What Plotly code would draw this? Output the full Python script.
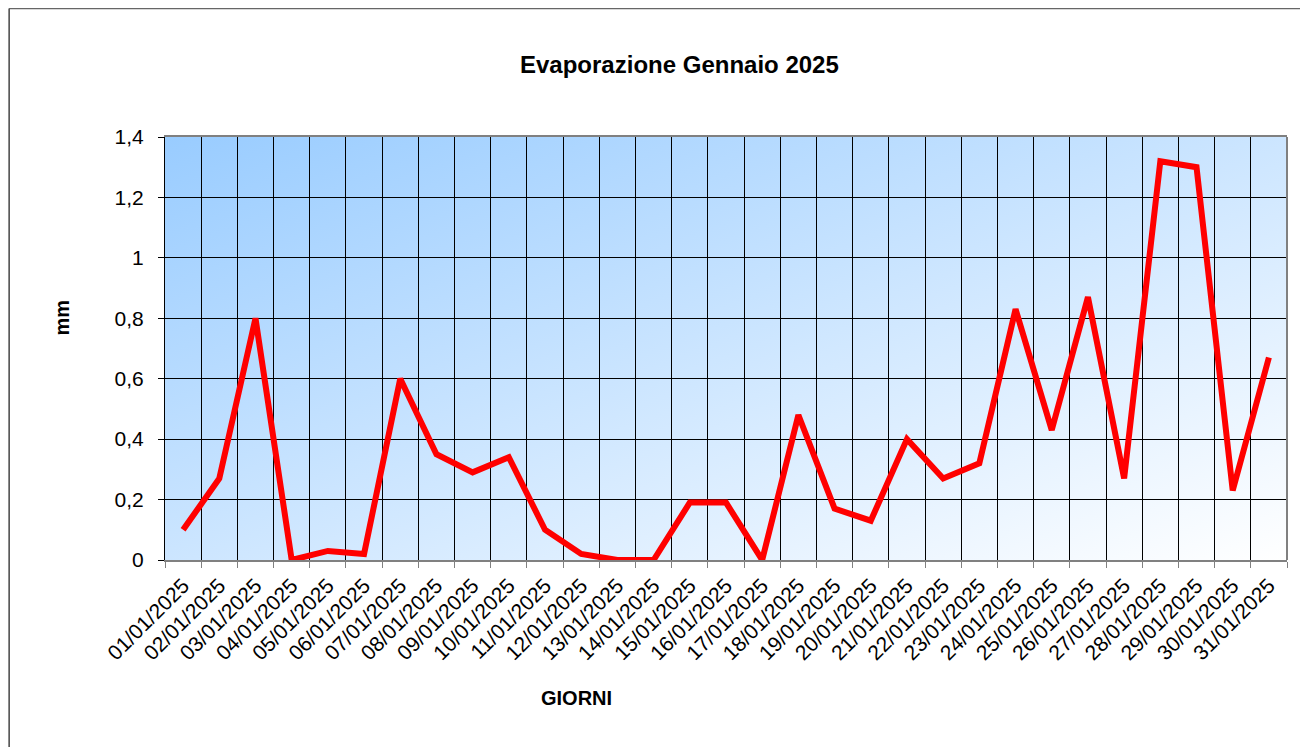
import base64
import plotly.graph_objects as go

days = [f"{d:02d}/01/2025" for d in range(1, 32)]
evaporation = [0.10, 0.27, 0.80, 0.00, 0.03, 0.02, 0.60, 0.35, 0.29, 0.34,
               0.10, 0.02, 0.00, 0.00, 0.19, 0.19, 0.00, 0.48, 0.17, 0.13,
               0.40, 0.27, 0.32, 0.83, 0.43, 0.87, 0.27, 1.32, 1.30, 0.23, 0.67]
y_ticks = [0, 0.2, 0.4, 0.6, 0.8, 1.0, 1.2, 1.4]

# page body has an 8px margin; figure coordinates are screen coordinates minus 8
OFF = 8
W, H = 1308 - OFF, 747 - OFF
L, R, T, B = 164.5 - OFF, 1287.5 - OFF, 137 - OFF, 560 - OFF
pw, ph = R - L, B - T

def px(x):
    return (x - OFF - L) / pw

def py(y):
    return (B - (y - OFF)) / ph

svg = ('<svg xmlns="http://www.w3.org/2000/svg" width="100" height="100" viewBox="0 0 100 100" '
       'preserveAspectRatio="none"><defs><linearGradient id="g" x1="0" y1="0" x2="1" y2="1">'
       '<stop offset="0" stop-color="#99CCFF"/><stop offset="1" stop-color="#FFFFFF"/>'
       '</linearGradient></defs><rect x="0" y="0" width="100" height="100" fill="url(#g)"/></svg>')
src = "data:image/svg+xml;base64," + base64.b64encode(svg.encode()).decode()

FONT = "Liberation Sans, Arial, sans-serif"

fig = go.Figure()
fig.add_trace(go.Scatter(x=days, y=evaporation, mode="lines",
                         line=dict(color="#FF0000", width=6),
                         hoverinfo="x+y", showlegend=False))

fig.update_layout(
    width=W, height=H,
    margin=dict(l=L, r=W - R, t=T, b=H - B, autoexpand=False),
    paper_bgcolor="white",
    plot_bgcolor="rgba(0,0,0,0)",
    separators=",.",
    font=dict(family=FONT, color="black", size=21),
    images=[dict(source=src, xref="paper", yref="paper", x=0, y=1, sizex=1, sizey=1,
                 xanchor="left", yanchor="top", sizing="stretch", layer="below")],
    xaxis=dict(type="category", tickson="boundaries", showgrid=True, gridcolor="black",
               gridwidth=1, ticks="outside", ticklen=6, tickcolor="#808080",
               tickangle=-45, tickfont=dict(size=21, family=FONT),
               showline=True, linecolor="#808080", linewidth=2, mirror=True,
               range=[-0.5, 30.5], ticklabelstandoff=3),
    yaxis=dict(range=[0, 1.4], tickvals=y_ticks, showgrid=True, gridcolor="black",
               gridwidth=1, ticks="outside", ticklen=6, tickcolor="black",
               tickfont=dict(size=21, family=FONT), zeroline=False,
               showline=True, linecolor="black", linewidth=1, ticklabelstandoff=10),
    shapes=[
        dict(type="line", xref="paper", yref="paper", x0=1, x1=1, y0=0, y1=1,
             line=dict(color="#808080", width=2)),
        dict(type="line", xref="paper", yref="paper", x0=px(8.5), x1=px(1400),
             y0=py(8.5), y1=py(8.5), line=dict(color="#666666", width=1.5)),
        dict(type="line", xref="paper", yref="paper", x0=px(8.5), x1=px(8.5),
             y0=py(8.5), y1=py(800), line=dict(color="#444444", width=1.5)),
    ],
    annotations=[
        dict(text="<b>Evaporazione Gennaio 2025</b>", xref="paper", yref="paper",
             x=px(679), y=py(65), showarrow=False, font=dict(size=24, family=FONT),
             xanchor="center", yanchor="middle"),
        dict(text="<b>GIORNI</b>", xref="paper", yref="paper",
             x=px(576), y=py(698), showarrow=False, font=dict(size=20, family=FONT),
             xanchor="center", yanchor="middle"),
        dict(text="<b>mm</b>", xref="paper", yref="paper", textangle=-90,
             x=px(61), y=py(318), showarrow=False, font=dict(size=20, family=FONT),
             xanchor="center", yanchor="middle"),
    ],
)

fig.write_html("out.html", post_script="document.body.style.overflow='hidden';")
